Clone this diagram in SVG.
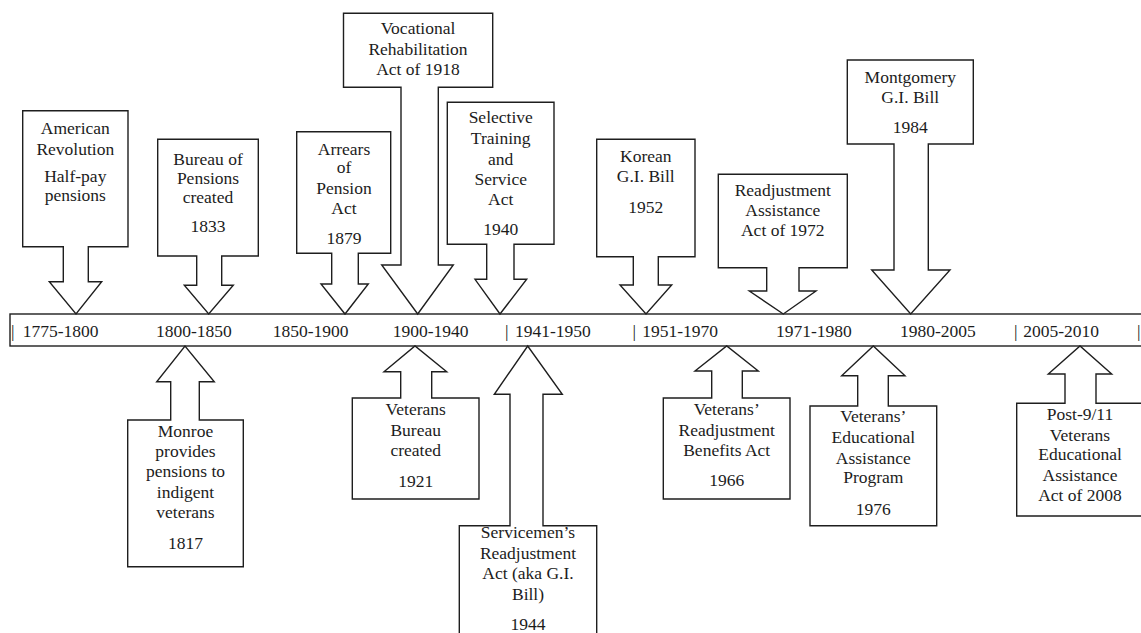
<svg xmlns="http://www.w3.org/2000/svg" width="1141" height="633" viewBox="0 0 1141 633">
<style>
.shape{fill:#fff;stroke:#1e1e1e;stroke-width:1.4;stroke-linejoin:miter}
.t{font-family:"Liberation Serif","Times New Roman",serif;font-size:17.5px;fill:#1c1c1c;text-anchor:middle}
.b{font-family:"Liberation Serif","Times New Roman",serif;font-size:17.5px;fill:#1c1c1c}
</style>
<rect width="1141" height="633" fill="#fff"/>
<g id="timeline">
<rect class="shape" x="10" y="314" width="1140" height="32"/>
<text class="b" y="337"><tspan x="11">|</tspan><tspan x="22.7">1775-1800</tspan><tspan x="156">1800-1850</tspan><tspan x="272.7">1850-1900</tspan><tspan x="392.7">1900-1940</tspan><tspan x="505">|</tspan><tspan x="515">1941-1950</tspan><tspan x="632.5">|</tspan><tspan x="642.3">1951-1970</tspan><tspan x="776">1971-1980</tspan><tspan x="900">1980-2005</tspan><tspan x="1014">|</tspan><tspan x="1023.3">2005-2010</tspan><tspan x="1137">|</tspan></text>
</g>
<g id="n-american-revolution">
<path class="shape" d="M22.7,110.7H128V246.7H88.3V281.7H101.7L76,314L49.3,281.7H63.3V246.7H22.7Z"/>
<text class="t" x="75.3"><tspan x="75.3" y="134">American</tspan><tspan x="75.3" y="155">Revolution</tspan><tspan x="75.3" y="182">Half-pay</tspan><tspan x="75.3" y="201">pensions</tspan></text>
</g>
<g id="n-bureau-of-pensions">
<path class="shape" d="M157.7,139.3H258.3V256H221.7V285.3H233.3L208.7,314L184.3,285.3H196.7V256H157.7Z"/>
<text class="t"><tspan x="208" y="165">Bureau of</tspan><tspan x="208" y="184">Pensions</tspan><tspan x="208" y="203">created</tspan><tspan x="208" y="232">1833</tspan></text>
</g>
<g id="n-arrears">
<path class="shape" d="M296.7,131.7H390.7V253.3H358.3V284H368.3L345,314L321,284H331.7V253.3H296.7Z"/>
<text class="t"><tspan x="344" y="155">Arrears</tspan><tspan x="344" y="173">of</tspan><tspan x="344" y="194">Pension</tspan><tspan x="344" y="214">Act</tspan><tspan x="344" y="244">1879</tspan></text>
</g>
<g id="n-vocational">
<path class="shape" d="M343.5,13.3H492.7V87.3H438.3V265H453.3L417.7,314L381.7,265H401V87.3H343.5Z"/>
<text class="t"><tspan x="418" y="34">Vocational</tspan><tspan x="418" y="55">Rehabilitation</tspan><tspan x="418" y="75">Act of 1918</tspan></text>
</g>
<g id="n-selective-training">
<path class="shape" d="M447.3,102.3H554V244.3H514V279.3H526.7L500,314L475,279.3H486.7V244.3H447.3Z"/>
<text class="t"><tspan x="500.7" y="123">Selective</tspan><tspan x="500.7" y="144">Training</tspan><tspan x="500.7" y="165">and</tspan><tspan x="500.7" y="185">Service</tspan><tspan x="500.7" y="205">Act</tspan><tspan x="500.7" y="235">1940</tspan></text>
</g>
<g id="n-korean">
<path class="shape" d="M596.7,139.3H695V256.7H658.3V285H671.7L646,314L620,285H633.3V256.7H596.7Z"/>
<text class="t"><tspan x="645.8" y="161.7">Korean</tspan><tspan x="645.8" y="181.7">G.I. Bill</tspan><tspan x="645.8" y="213.3">1952</tspan></text>
</g>
<g id="n-readjustment-assistance">
<path class="shape" d="M718.3,174.3H847.3V267.7H799V291H816L783.3,314L749.3,291H766.7V267.7H718.3Z"/>
<text class="t"><tspan x="782.8" y="195.7">Readjustment</tspan><tspan x="782.8" y="216">Assistance</tspan><tspan x="782.8" y="236">Act of 1972</tspan></text>
</g>
<g id="n-montgomery">
<path class="shape" d="M847.3,60H973.3V144H928.3V270H950L910.7,314L871.7,270H894V144H847.3Z"/>
<text class="t"><tspan x="910.3" y="83.3">Montgomery</tspan><tspan x="910.3" y="103.3">G.I. Bill</tspan><tspan x="910.3" y="133.3">1984</tspan></text>
</g>
<g id="n-monroe">
<path class="shape" d="M127.7,566.7H243.3V420H199.3V381.7H214.3L185,346L156.7,381.7H170.7V420H127.7Z"/>
<text class="t"><tspan x="185.5" y="436.7">Monroe</tspan><tspan x="185.5" y="457.3">provides</tspan><tspan x="185.5" y="477.3">pensions to</tspan><tspan x="185.5" y="498.3">indigent</tspan><tspan x="185.5" y="517.7">veterans</tspan><tspan x="185.5" y="549.3">1817</tspan></text>
</g>
<g id="n-veterans-bureau">
<path class="shape" d="M352.3,499H479V398H431.7V371.7H446.7L415,346L384,371.7H400.7V398H352.3Z"/>
<text class="t"><tspan x="415.7" y="415">Veterans</tspan><tspan x="415.7" y="435.7">Bureau</tspan><tspan x="415.7" y="456">created</tspan><tspan x="415.7" y="486.7">1921</tspan></text>
</g>
<g id="n-servicemens">
<path class="shape" d="M459.3,660H596.7V525.7H543V394.3H562.3L527.7,346L494.3,394.3H510V525.7H459.3Z"/>
<text class="t"><tspan x="528" y="538.3">Servicemen’s</tspan><tspan x="528" y="559">Readjustment</tspan><tspan x="528" y="579.3">Act (aka G.I.</tspan><tspan x="528" y="600">Bill)</tspan><tspan x="528" y="630">1944</tspan></text>
</g>
<g id="n-veterans-readjustment-benefits">
<path class="shape" d="M663.3,499H790V398H742.3V371H758.3L726.7,346L695,371H711.7V398H663.3Z"/>
<text class="t"><tspan x="726.7" y="415">Veterans’</tspan><tspan x="726.7" y="435.7">Readjustment</tspan><tspan x="726.7" y="456">Benefits Act</tspan><tspan x="726.7" y="486">1966</tspan></text>
</g>
<g id="n-veterans-educational-assistance">
<path class="shape" d="M810,525.7H936.7V406H888.3V375.7H905L873.3,346L841.7,375.7H857.7V406H810Z"/>
<text class="t"><tspan x="873.3" y="422">Veterans’</tspan><tspan x="873.3" y="443.3">Educational</tspan><tspan x="873.3" y="464.3">Assistance</tspan><tspan x="873.3" y="483.3">Program</tspan><tspan x="873.3" y="515">1976</tspan></text>
</g>
<g id="n-post-911">
<path class="shape" d="M1016.7,516H1143.3V403.3H1096V374H1111.7L1080,346L1048.3,374H1065V403.3H1016.7Z"/>
<text class="t"><tspan x="1080" y="420">Post-9/11</tspan><tspan x="1080" y="440.5">Veterans</tspan><tspan x="1080" y="460">Educational</tspan><tspan x="1080" y="481">Assistance</tspan><tspan x="1080" y="501">Act of 2008</tspan></text>
</g>
</svg>
